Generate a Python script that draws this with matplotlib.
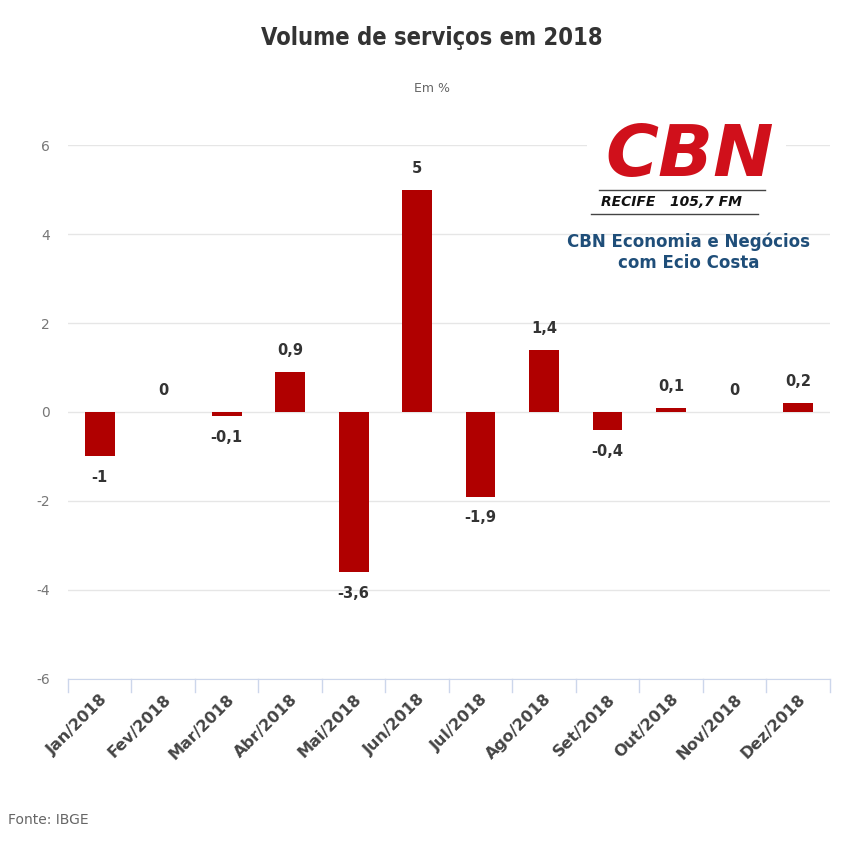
import numpy as np
import matplotlib.pyplot as plt
from matplotlib.lines import Line2D

meses = ['Jan/2018', 'Fev/2018', 'Mar/2018', 'Abr/2018', 'Mai/2018', 'Jun/2018',
         'Jul/2018', 'Ago/2018', 'Set/2018', 'Out/2018', 'Nov/2018', 'Dez/2018']
valores = [-1, 0, -0.1, 0.9, -3.6, 5, -1.9, 1.4, -0.4, 0.1, 0, 0.2]
rotulos = ['-1', '0', '-0,1', '0,9', '-3,6', '5', '-1,9', '1,4', '-0,4', '0,1', '0', '0,2']
yticks = [-6, -4, -2, 0, 2, 4, 6]

fig = plt.figure(figsize=(8.5, 8.5), dpi=100)
ax = fig.add_axes([0.08, 0.2012, 0.896, 0.6282])

x = np.arange(len(meses))
ax.bar(x, valores, width=0.47, color='#b00000', zorder=3)

for xi, v, r in zip(x, valores, rotulos):
    if v >= 0:
        ax.annotate(r, (xi, v), xytext=(0, 10), textcoords='offset points',
                    ha='center', va='bottom', fontsize=10.5, color='#333333',
                    fontweight='bold')
    else:
        ax.annotate(r, (xi, v), xytext=(0, -10), textcoords='offset points',
                    ha='center', va='top', fontsize=10.5, color='#333333',
                    fontweight='bold')

ax.set_xlim(-0.5, len(meses) - 0.5)
ax.set_ylim(-6, 6)
ax.set_yticks(yticks)
ax.set_yticklabels([str(t) for t in yticks], fontsize=10, color='#777777')
ax.grid(axis='y', color='#e6e6e6', linewidth=1, zorder=0)
ax.tick_params(axis='y', length=0, pad=13)

# ticks entre as categorias
ax.set_xticks(x)
ax.set_xticklabels(meses, rotation=45, ha='right', rotation_mode='anchor',
                   fontsize=11.5, color='#444444', fontweight='bold')
ax.tick_params(axis='x', length=0, pad=9)
for b in np.arange(-0.5, len(meses) + 0.5, 1):
    ax.plot([b, b], [-6, -6.3], color='#ccd6eb', linewidth=1, clip_on=False)

for s in ['top', 'right', 'left']:
    ax.spines[s].set_visible(False)
ax.spines['bottom'].set_color('#ccd6eb')

fig.text(0.508, 0.955, 'Volume de serviços em 2018', ha='center', va='center',
         fontsize=17, color='#333333', fontweight='bold', fontstretch='condensed')
fig.text(0.508, 0.896, 'Em %', ha='center', va='center', fontsize=9, color='#666666')
fig.text(0.01, 0.035, 'Fonte: IBGE', ha='left', va='center', fontsize=10, color='#666666')

# logo CBN
fig.patches.append(plt.Rectangle((0.69, 0.745), 0.235, 0.125, transform=fig.transFigure,
                                 facecolor='white', edgecolor='none', zorder=5))
fig.text(0.812, 0.816, 'CBN', ha='center', va='center', fontsize=52, color='#d0101b',
         fontweight='bold', fontstyle='italic', zorder=6)
fig.add_artist(Line2D([0.705, 0.9], [0.777, 0.777], color='#444444', linewidth=1,
                      transform=fig.transFigure, zorder=6))
fig.add_artist(Line2D([0.695, 0.892], [0.748, 0.748], color='#444444', linewidth=1,
                      transform=fig.transFigure, zorder=6))
fig.text(0.79, 0.762, 'RECIFE   105,7 FM', ha='center', va='center', fontsize=10,
         color='#111111', fontweight='bold', fontstyle='italic', zorder=6)
fig.text(0.81, 0.703, 'CBN Economia e Negócios\ncom Ecio Costa', ha='center', va='center',
         fontsize=12, color='#1f4e79', fontweight='bold', linespacing=1.2, zorder=6)

fig.savefig('out.png', dpi=100)
